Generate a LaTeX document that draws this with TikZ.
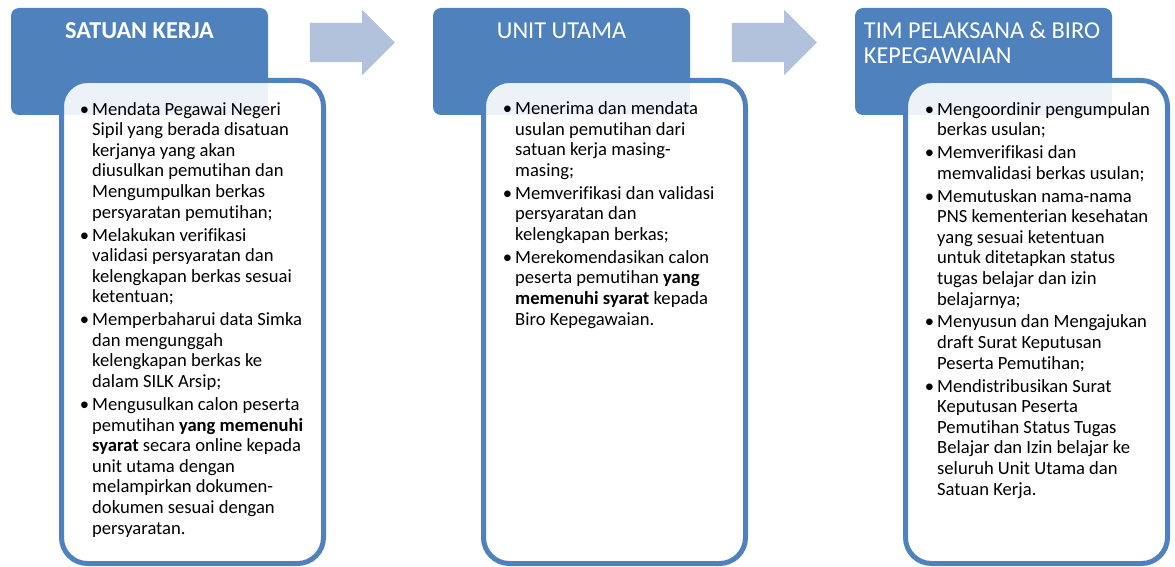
\documentclass[tikz,border=0pt]{standalone}
\usepackage{fontspec}
\setmainfont{Carlito}[Ligatures={NoCommon}]
\usepackage{xcolor}
\usetikzlibrary{positioning,calc,shapes.arrows}

\definecolor{headblue}{HTML}{4F81BD}
\definecolor{arrowblue}{HTML}{B2C1DC}
\newcommand{\itm}{\llap{\textbullet\hspace{3pt}}}

\tikzset{
  head/.style={fill=headblue, rounded corners=8pt, minimum width=257pt, minimum height=107pt, inner sep=0pt},
  card/.style={draw=headblue, line width=5pt, fill=white, fill opacity=0.9, rounded corners=26pt,
    minimum width=262pt, minimum height=483pt, inner sep=0pt},
  headtext/.style={text=white, font=\fontsize{24.3}{25}\selectfont, align=left, inner sep=0pt, anchor=base},
  listtext/.style={font=\fontsize{18.6}{20.6}\selectfont, align=left, inner sep=0pt, anchor=base west},
  flow/.style={single arrow, fill=arrowblue, minimum height=85pt, inner xsep=0pt, inner ysep=19.5pt,
    single arrow head extend=13pt}
}

\begin{document}
\begin{tikzpicture}[x=1pt,y=-1pt]
		\useasboundingbox (0,0) rectangle (1175,567);
		% headers
		\node[head] (sk) at (139.5,61.5) {};
		\node[head] (uu) at (561.5,61.5) {};
		\node[head] (tp) at (983.5,61.5) {};
		% cards
		\node[card] (sk-card) at (192.5,322) {};
		\node[card] (uu-card) at (614.5,322) {};
		\node[card] (tp-card) at (1036.5,322) {};
		% flow arrows
		\node[flow] (a1) at (342.5,42.5) {};
		\node[flow] (a2) at (764.5,42.5) {};
		% header texts (base = last line)
		\node[headtext] (sk-t) at (139.5,39) {\bfseries SATUAN KERJA};
		\node[headtext] (uu-t) at (561.5,39) {UNIT UTAMA};
		\node[headtext] (tp-t) at (982,64) {TIM PELAKSANA \& BIRO\\KEPEGAWAIAN};
		% lists
		\node[listtext] (sk-list) at (92,534) {%
			\itm Mendata Pegawai Negeri\\
			Sipil yang berada disatuan\\
			kerjanya yang akan\\
			diusulkan pemutihan dan\\
			Mengumpulkan berkas\\
			persyaratan pemutihan;\\[2.3pt]
			\itm Melakukan verifikasi\\
			validasi persyaratan dan\\
			kelengkapan berkas sesuai\\
			ketentuan;\\[2.3pt]
			\itm Memperbaharui data Simka\\
			dan mengunggah\\
			kelengkapan berkas ke\\
			dalam SILK Arsip;\\[2.3pt]
			\itm Mengusulkan calon peserta\\
			pemutihan \textbf{yang memenuhi}\\
			\textbf{syarat} secara online kepada\\
			unit utama dengan\\
			melampirkan dokumen-\\
			dokumen sesuai dengan\\
			persyaratan.};
		\node[listtext] (uu-list) at (515,325) {%
			\itm Menerima dan mendata\\
			usulan pemutihan dari\\
			satuan kerja masing-\\
			masing;\\[2.3pt]
			\itm Memverifikasi dan validasi\\
			persyaratan dan\\
			kelengkapan berkas;\\[2.3pt]
			\itm Merekomendasikan calon\\
			peserta pemutihan \textbf{yang}\\
			\textbf{memenuhi syarat} kepada\\
			Biro Kepegawaian.};
		\node[listtext] (tp-list) at (937,495) {%
			\itm Mengoordinir pengumpulan\\
			berkas usulan;\\[2.3pt]
			\itm Memverifikasi dan\\
			memvalidasi berkas usulan;\\[2.3pt]
			\itm Memutuskan nama-nama\\
			PNS kementerian kesehatan\\
			yang sesuai ketentuan\\
			untuk ditetapkan status\\
			tugas belajar dan izin\\
			belajarnya;\\[2.3pt]
			\itm Menyusun dan Mengajukan\\
			draft Surat Keputusan\\
			Peserta Pemutihan;\\[2.3pt]
			\itm Mendistribusikan Surat\\
			Keputusan Peserta\\
			Pemutihan Status Tugas\\
			Belajar dan Izin belajar ke\\
			seluruh Unit Utama dan\\
			Satuan Kerja.};
\end{tikzpicture}
\end{document}
